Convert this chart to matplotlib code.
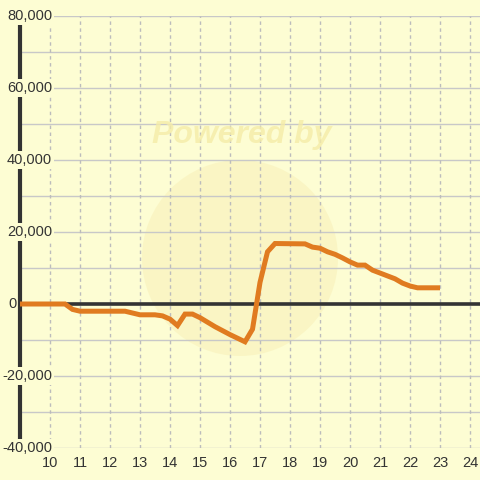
import matplotlib
matplotlib.use('Agg')
import matplotlib.pyplot as plt
from matplotlib.patches import Ellipse

# hour of day vs value
hours = [9.0, 10.5, 10.75, 11.0, 12.5, 12.75, 13.0, 13.5, 13.75, 14.0, 14.25,
         14.5, 14.75, 15.0, 15.5, 16.0, 16.5, 16.75, 17.0, 17.25, 17.5, 18.5,
         18.75, 19.0, 19.25, 19.5, 19.75, 20.0, 20.25, 20.5, 20.75, 21.0,
         21.25, 21.5, 21.75, 22.0, 22.25, 23.0]
values = [0, 0, -1500, -2000, -2000, -2500, -3000, -3000, -3300, -4200, -6000,
          -2800, -2800, -3800, -6300, -8500, -10500, -7000, 6000, 14500, 16800, 16700,
          15800, 15500, 14500, 13800, 12800, 11700, 10800, 10800, 9400, 8600,
          7800, 7000, 5800, 5000, 4500, 4500]

x_ticks = list(range(10, 25))
y_grid = list(range(-40000, 80001, 10000))
y_labels = list(range(-40000, 80001, 20000))

bg = '#fdfdd3'
txt = '#333333'

plt.rcParams['font.family'] = ['Liberation Sans', 'DejaVu Sans']

fig = plt.figure(figsize=(4.8, 4.8), dpi=100, facecolor=bg)
ax = fig.add_axes([20 / 480, 1 - 448 / 480, 460 / 480, 432 / 480])
ax.set_facecolor(bg)
ax.set_xlim(9, 24.333)
ax.set_ylim(-40000, 80000)

# watermark
fig.add_artist(Ellipse((240 / 480, 1 - 258 / 480), 196 / 480, 196 / 480,
                       facecolor='#f8f0b8', edgecolor='none', alpha=0.55, zorder=0))
fig.text(242 / 480, 1 - 135 / 480, 'Powered by', ha='center', va='center',
         fontsize=23, fontweight='bold', fontstyle='italic', color='#f5eca8',
         alpha=0.8, zorder=0)
ax.patch.set_alpha(0)

for v in y_grid:
    ax.axhline(v, color='#c8c8c8', lw=1, zorder=1)
for h in x_ticks:
    ax.axvline(h, color='#bcbcbc', lw=1, ls=(0, (2.5, 2.5)), zorder=1)

ax.axhline(0, color=txt, lw=2.6, zorder=3)
ax.plot(hours, values, color='#e07b20', lw=3.6, solid_joinstyle='miter',
        solid_capstyle='butt', zorder=4)

for s in ['top', 'right', 'bottom']:
    ax.spines[s].set_visible(False)
ax.spines['left'].set_color(txt)
ax.spines['left'].set_linewidth(3)
ax.spines['left'].set_zorder(3)

ax.set_yticks([])
ax.set_xticks(x_ticks)
ax.set_xticklabels([str(h) for h in x_ticks])
ax.tick_params(axis='x', length=0, pad=6, labelsize=10.5, labelcolor=txt)

for v in y_labels:
    if v == 0:
        ax.text((17 - 20) / 460, v, '0', transform=ax.get_yaxis_transform(),
                ha='right', va='center', fontsize=10.5, color=txt, zorder=6,
                clip_on=False)
        continue
    ax.text((52 - 20) / 460, v, '{:,}'.format(v), transform=ax.get_yaxis_transform(),
            ha='right', va='center', fontsize=10.5, color=txt, zorder=6,
            clip_on=False,
            bbox=dict(boxstyle='square,pad=0.15', facecolor=bg, edgecolor='none'))

fig.savefig('out.png', dpi=100, facecolor=bg)
